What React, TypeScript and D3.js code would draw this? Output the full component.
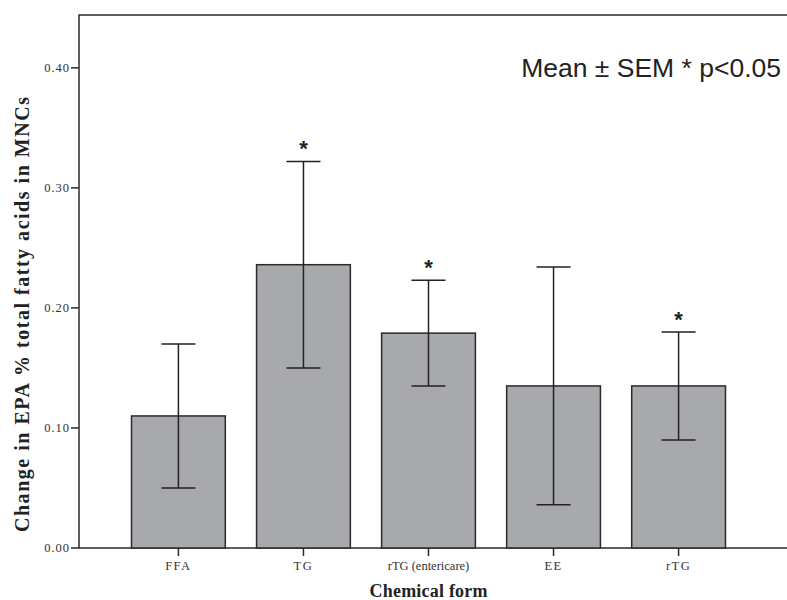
import * as d3 from "d3";

const categories = ["FFA", "TG", "rTG (entericare)", "EE", "rTG"];
const means = [0.11, 0.236, 0.179, 0.135, 0.135];
const sems = [0.06, 0.086, 0.044, 0.099, 0.045];
const significant = [false, true, true, false, true];
const yTickValues = [0.0, 0.1, 0.2, 0.3, 0.4];

export default function App() {
  const width = 787,
    height = 600;
  const left = 79,
    top = 15,
    bottom = 548,
    frameRight = 800;
  const capHalf = 17;

  const xScale = d3
    .scaleBand<string>()
    .domain(categories)
    .range([left, left + 699])
    .paddingInner(0.25)
    .paddingOuter(0.42);
  const yScale = d3
    .scaleLinear()
    .domain([0, 0.444])
    .range([bottom, top]);

  const serif = "'Liberation Serif', 'Times New Roman', serif";
  const sans = "'Liberation Sans', Arial, sans-serif";

  return (
    <svg
      width={width}
      height={height}
      style={{ position: "absolute", left: 0, top: 0, background: "#fff" }}
    >
      {/* frame */}
      <rect
        x={left}
        y={top}
        width={frameRight - left}
        height={bottom - top}
        fill="none"
        stroke="#2a2a2a"
        strokeWidth={1.5}
      />

      {/* bars */}
      {categories.map((c, i) => {
        const x = xScale(c)!;
        const cx = x + xScale.bandwidth() / 2;
        const hi = yScale(means[i] + sems[i]);
        const lo = yScale(means[i] - sems[i]);
        return (
          <g key={c}>
            <rect
              x={x}
              y={yScale(means[i])}
              width={xScale.bandwidth()}
              height={bottom - yScale(means[i])}
              fill="#a8a9ac"
              stroke="#2a2a2a"
              strokeWidth={1.5}
            />
            <line x1={cx} x2={cx} y1={hi} y2={lo} stroke="#222" strokeWidth={1.5} />
            <line
              x1={cx - capHalf}
              x2={cx + capHalf}
              y1={hi}
              y2={hi}
              stroke="#222"
              strokeWidth={1.5}
            />
            <line
              x1={cx - capHalf}
              x2={cx + capHalf}
              y1={lo}
              y2={lo}
              stroke="#222"
              strokeWidth={1.5}
            />
            {significant[i] && (
              <text
                x={cx}
                y={hi - 5}
                textAnchor="middle"
                fontFamily={sans}
                fontWeight="bold"
                fontSize={22}
                fill="#222"
              >
                *
              </text>
            )}
            <line
              x1={cx}
              x2={cx}
              y1={bottom}
              y2={bottom + 8}
              stroke="#2a2a2a"
              strokeWidth={1.5}
            />
            <text
              x={cx}
              y={bottom + 22}
              textAnchor="middle"
              fontFamily={serif}
              fontSize={12.5}
              letterSpacing={c.length <= 4 ? 1.5 : 0}
              fill="#333"
            >
              {c}
            </text>
          </g>
        );
      })}

      {/* y axis ticks */}
      {yTickValues.map((t) => (
        <g key={t}>
          <line
            x1={left - 8}
            x2={left}
            y1={yScale(t)}
            y2={yScale(t)}
            stroke="#2a2a2a"
            strokeWidth={1.5}
          />
          <text
            x={left - 9}
            y={yScale(t)}
            textAnchor="end"
            dominantBaseline="central"
            fontFamily={serif}
            fontSize={12.5}
            letterSpacing={1}
            fill="#333"
          >
            {t.toFixed(2)}
          </text>
        </g>
      ))}

      {/* axis titles */}
      <text
        transform={`translate(29 314.5) rotate(-90)`}
        textAnchor="middle"
        fontFamily={serif}
        fontWeight="bold"
        fontSize={20}
        textLength={435}
        lengthAdjust="spacing"
        fill="#222"
      >
        Change in EPA % total fatty acids in MNCs
      </text>
      <text
        x={xScale("rTG (entericare)")! + xScale.bandwidth() / 2}
        y={597}
        textAnchor="middle"
        fontFamily={serif}
        fontWeight="bold"
        fontSize={18}
        textLength={118}
        lengthAdjust="spacing"
        fill="#222"
      >
        Chemical form
      </text>

      {/* annotation */}
      <text
        x={781}
        y={77}
        textAnchor="end"
        fontFamily={sans}
        fontSize={26.5}
        fill="#222"
      >
        Mean ± SEM * p&lt;0.05
      </text>
    </svg>
  );
}
